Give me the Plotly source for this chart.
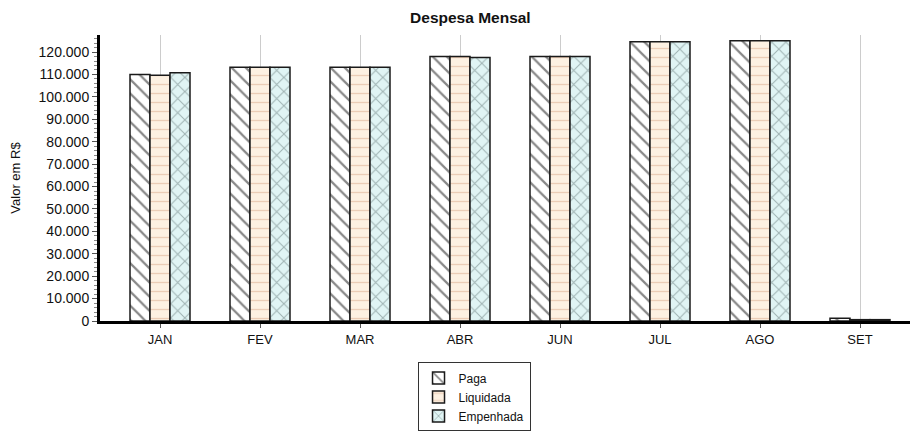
import plotly.graph_objects as go

meses = ["JAN", "FEV", "MAR", "ABR", "JUN", "JUL", "AGO", "SET"]
paga = [110000, 113200, 113200, 118000, 118000, 124600, 125000, 1200]
liquidada = [109600, 113200, 113200, 118000, 118000, 124600, 125000, 600]
empenhada = [110800, 113200, 113200, 117600, 118000, 124600, 125000, 600]
y_ticks = list(range(0, 120001, 10000))
y_labels = ["0" if v == 0 else f"{v//1000}.000" for v in y_ticks]

font = "Liberation Sans, Arial, sans-serif"

fig = go.Figure()
fig.add_trace(go.Bar(
    name="Paga", x=meses, y=paga,
    marker=dict(color="white", line=dict(color="#1a1a1a", width=1.5),
                pattern=dict(shape="\\", fgcolor="#111111", bgcolor="white", size=10, solidity=0.22)),
))
fig.add_trace(go.Bar(
    name="Liquidada", x=meses, y=liquidada,
    marker=dict(color="#fdf1e2", line=dict(color="#1a1a1a", width=1.5),
                pattern=dict(shape="-", fgcolor="#d9a98a", bgcolor="#fdf1e2", size=9, solidity=0.15)),
))
fig.add_trace(go.Bar(
    name="Empenhada", x=meses, y=empenhada,
    marker=dict(color="#e0f4f4", line=dict(color="#1a1a1a", width=1.5),
                pattern=dict(shape="x", fgcolor="#5f7373", bgcolor="#e0f4f4", size=10, solidity=0.2)),
))

fig.update_layout(
    width=912, height=424,
    margin=dict(l=92, r=10, t=27, b=111, autoexpand=False),
    paper_bgcolor="white", plot_bgcolor="white",
    barmode="group", bargap=0.4, bargroupgap=0.0,
    font=dict(family=font, size=12, color="#111111"),
    title=dict(text="<b>Despesa Mensal</b>", x=0.507, xanchor="center", y=0.99, yanchor="top",
               font=dict(family=font, size=15.5, color="#111111")),
    legend=dict(x=0.392, xanchor="left", y=-0.145, yanchor="top",
                bordercolor="#333333", borderwidth=1, bgcolor="white",
                font=dict(family=font, size=12), tracegroupgap=0,
                itemwidth=30),
    showlegend=True,
)
fig.update_xaxes(
    range=[-0.6, 7.5], showgrid=True, gridcolor="#cccccc", gridwidth=1,
    showline=True, linecolor="black", linewidth=3,
    ticks="outside", ticklen=4, tickcolor="#555555",
    tickfont=dict(family=font, size=13), automargin=False,
)
fig.update_yaxes(
    range=[0, 127600], tickvals=y_ticks, ticktext=y_labels,
    showgrid=False, zeroline=False,
    showline=True, linecolor="black", linewidth=3,
    ticks="outside", ticklen=5, tickcolor="#555555",
    minor=dict(ticks="outside", ticklen=3, dtick=2000, tickcolor="#888888"),
    title=dict(text="Valor em R$", standoff=16, font=dict(family=font, size=13)),
    tickfont=dict(family=font, size=14), automargin=False,
)

fig.write_html("out.html")
